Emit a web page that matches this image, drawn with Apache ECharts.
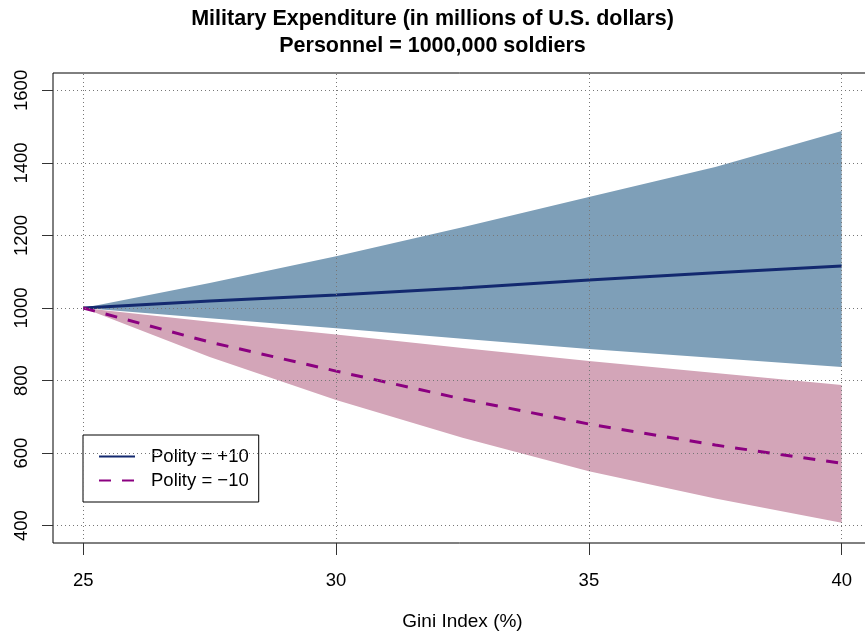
<!DOCTYPE html>
<html>
<head>
<meta charset="utf-8">
<script src="https://cdn.jsdelivr.net/npm/echarts@6/dist/echarts.min.js"></script>
<style>
  html, body { margin: 0; padding: 0; background: #fff; }
  #chart { width: 865px; height: 634px; }
</style>
</head>
<body>
<div id="chart"></div>
<script>
// values (Gini index on x)
const gini = [25, 27.5, 30, 32.5, 35, 37.5, 40];
const polityHigh = [1000, 1019, 1036, 1055, 1077, 1097, 1116];
const polityHighUpper = [1000, 1069, 1143, 1223, 1306, 1389, 1488];
const polityHighLower = [1000, 972, 944, 915, 887, 862, 837];
const polityLow = [1000, 906, 826, 749, 680, 622, 572];
const polityLowUpper = [1000, 962, 927, 890, 854, 821, 788];
const polityLowLower = [1000, 865, 746, 642, 550, 475, 408];

const xTicks = [25, 30, 35, 40];
const yTicks = [400, 600, 800, 1000, 1200, 1400, 1600];
const legendNames = ['Polity = +10', 'Polity = \u221210'];

const FONT = 'Liberation Sans, Arial, Helvetica, sans-serif';

function pairs(ys) {
  return ys.map(function (y, i) { return [gini[i], y]; });
}
// band rows are [value, gini] so that the stack runs on the y values
function bandRows(ys) {
  return ys.map(function (y, i) { return [y, gini[i]]; });
}
function spanRows(up, lo) {
  return up.map(function (y, i) { return [y - lo[i], gini[i]]; });
}

var chart = echarts.init(document.getElementById('chart'), null, { renderer: 'canvas' });

var gridLines = [];
xTicks.forEach(function (v) { gridLines.push({ xAxis: v }); });
yTicks.forEach(function (v) { gridLines.push({ yAxis: v }); });

function band(name, stack, data, color) {
  return {
    name: name, type: 'line', stack: stack, data: data,
    encode: { x: 1, y: 0 },
    symbol: 'none', lineStyle: { width: 0, opacity: 0 },
    areaStyle: color ? { color: color, opacity: 1 } : undefined,
    silent: true, z: 1
  };
}

var option = {
  animation: false,
  backgroundColor: '#fff',
  title: {
    text: 'Military Expenditure (in millions of U.S. dollars)\nPersonnel = 1000,000 soldiers',
    left: 'center',
    top: 1,
    textStyle: { fontFamily: FONT, fontSize: 21.5, fontWeight: 'bold', color: '#000', lineHeight: 27 }
  },
  grid: {
    left: 53, top: 73, width: 819, height: 470,
    outerBoundsMode: 'none',
    containLabel: false,
    show: true, borderColor: '#000', borderWidth: 1, backgroundColor: 'transparent'
  },
  legend: {
    orient: 'vertical',
    left: 83, top: 435,
    data: legendNames,
    itemWidth: 36, itemHeight: 16, itemGap: 5,
    padding: [12, 10, 12, 15],
    backgroundColor: '#fff',
    borderColor: '#000', borderWidth: 1, borderRadius: 0,
    itemStyle: { color: 'rgba(0,0,0,0)', borderColor: 'rgba(0,0,0,0)', borderWidth: 0 },
    textStyle: { fontFamily: FONT, fontSize: 18.5, color: '#000', padding: [0, 0, 0, 11] }
  },
  xAxis: {
    type: 'value',
    min: 24.4, max: 40.6,
    name: 'Gini Index (%)',
    nameLocation: 'middle',
    nameGap: 69,
    nameTextStyle: { fontFamily: FONT, fontSize: 19, color: '#000' },
    axisLine: { show: false },
    axisTick: { show: true, length: 12, customValues: xTicks, lineStyle: { color: '#333' } },
    axisLabel: { customValues: xTicks, fontFamily: FONT, fontSize: 18.5, color: '#000', margin: 28 },
    splitLine: { show: false }
  },
  yAxis: {
    type: 'value',
    min: 352, max: 1648,
    axisLine: { show: false },
    axisTick: { show: true, length: 11, customValues: yTicks, lineStyle: { color: '#333' } },
    axisLabel: {
      customValues: yTicks, rotate: 90, fontFamily: FONT, fontSize: 18.5, color: '#000', margin: 22,
      formatter: function (v) { return String(v); }
    },
    splitLine: { show: false }
  },
  series: [
    band('highBase', 'high', bandRows(polityHighLower), null),
    band('highBand', 'high', spanRows(polityHighUpper, polityHighLower), '#7e9fb8'),
    band('lowBase', 'low', bandRows(polityLowLower), null),
    band('lowBand', 'low', spanRows(polityLowUpper, polityLowLower), '#d3a5b8'),
    {
      name: 'gridlines', type: 'line', data: [], symbol: 'none', silent: true, z: 2,
      markLine: {
        silent: true, symbol: 'none', label: { show: false },
        lineStyle: { color: '#777', width: 1, type: [1, 3] },
        data: gridLines
      }
    },
    {
      name: legendNames[0], type: 'line', data: pairs(polityHigh),
      symbol: 'none', z: 3,
      lineStyle: { color: '#13296f', width: 3 },
      itemStyle: { color: '#13296f' }
    },
    {
      name: legendNames[1], type: 'line', data: pairs(polityLow),
      symbol: 'none', z: 3,
      lineStyle: { color: '#8b0080', width: 3, type: [12, 11] },
      itemStyle: { color: '#8b0080' }
    }
  ]
};

chart.setOption(option);
</script>
</body>
</html>
